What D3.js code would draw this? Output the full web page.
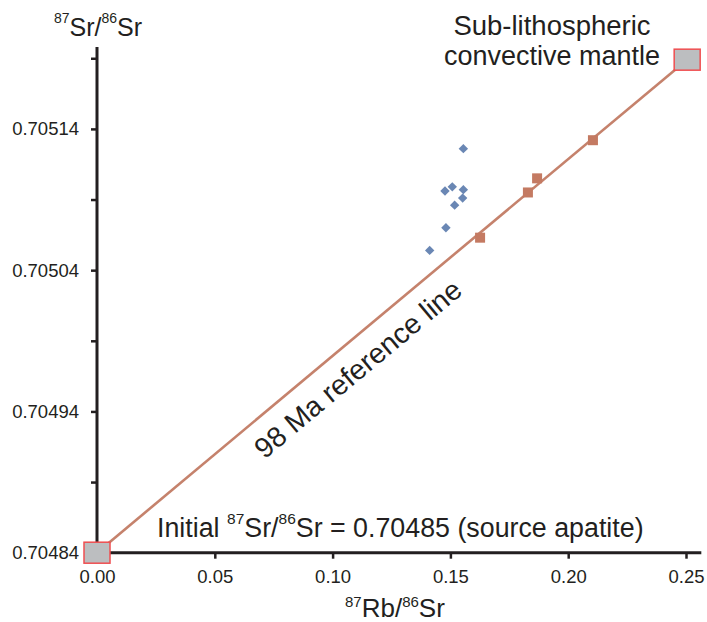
<!DOCTYPE html>
<html>
<head>
<meta charset="utf-8">
<script src="https://cdn.jsdelivr.net/npm/d3@7"></script>
<style>
  html, body { margin: 0; padding: 0; background: #fff; }
  svg { display: block; }
  text { font-family: "Liberation Sans", Arial, Helvetica, sans-serif; fill: #231f20; }
</style>
</head>
<body>
<svg id="chart" width="707" height="622"></svg>
<script>
// ---- data ----
const sampleRb = [0.1412, 0.1477, 0.1481, 0.1508, 0.1518, 0.1552, 0.1555, 0.1555];
const sampleSr = [0.705054, 0.705096, 0.705070, 0.705099, 0.705086, 0.705091, 0.705097, 0.705126];
const refRb = [0.1626, 0.1829, 0.1868, 0.2105];
const refSr = [0.705063, 0.705095, 0.705105, 0.705132];
const endRb = [0, 0.2505];
const endSr = [0.70484, 0.705189];
const xTicks = [0, 0.05, 0.10, 0.15, 0.20, 0.25];
const yMajor = [0.70484, 0.70494, 0.70504, 0.70514];
const yMinor = [0.70489, 0.70499, 0.70509, 0.70519];

const svg = d3.select("#chart");
const dark = "#231f20";
const lineCol = "#c5826c";
const sqCol = "#c47a62";
const blue = "#6a87b4";

const x = d3.scaleLinear().domain([0, 0.25]).range([97, 686]);
const y = d3.scaleLinear().domain([0.70484, 0.70514]).range([552.7, 128.9]);

// axes
const xAxis = d3.axisBottom(x).tickValues(xTicks).tickSize(6).tickPadding(11)
  .tickFormat(d3.format(".2f"));
const gx = svg.append("g").attr("transform", `translate(0,${y(0.70484)})`).call(xAxis);
gx.select(".domain").remove();
gx.selectAll(".tick line").attr("stroke", dark).attr("stroke-width", 2.5);
gx.selectAll(".tick text").attr("font-size", 18.5).attr("font-family", '"Liberation Sans", Arial, sans-serif').attr("fill", dark);

const yTicksAll = yMajor.concat(yMinor);
const yAxis = d3.axisLeft(y).tickValues(yTicksAll).tickSize(6).tickPadding(12)
  .tickFormat(d => yMajor.includes(d) ? d3.format(".5f")(d) : "");
const gy = svg.append("g").attr("transform", `translate(${x(0)},0)`).call(yAxis);
gy.select(".domain").remove();
gy.selectAll(".tick line").attr("stroke", dark).attr("stroke-width", 2.5);
gy.selectAll(".tick text").attr("font-size", 18.5).attr("font-family", '"Liberation Sans", Arial, sans-serif').attr("fill", dark);

// axis lines
svg.append("line").attr("x1", x(0)).attr("x2", x(0))
  .attr("y1", y(0.705198)).attr("y2", y(0.70484) + 1.5)
  .attr("stroke", dark).attr("stroke-width", 3);
svg.append("line").attr("x1", x(0) - 1.5).attr("x2", x(0.2565))
  .attr("y1", y(0.70484)).attr("y2", y(0.70484))
  .attr("stroke", dark).attr("stroke-width", 3);

// reference line
svg.append("line")
  .attr("x1", x(endRb[0])).attr("y1", y(endSr[0]))
  .attr("x2", x(endRb[1])).attr("y2", y(endSr[1]))
  .attr("stroke", lineCol).attr("stroke-width", 2.6);

// end member squares
svg.selectAll("rect.end").data(endRb).enter().append("rect")
  .attr("class", "end")
  .attr("x", (d, i) => x(d) - 13).attr("y", (d, i) => y(endSr[i]) - 10.5)
  .attr("width", 26).attr("height", 21)
  .attr("fill", "#bcbec0").attr("stroke", "#ef4e50").attr("stroke-width", 1.5);

// points on line
svg.selectAll("rect.ref").data(refRb).enter().append("rect")
  .attr("class", "ref")
  .attr("x", d => x(d) - 5).attr("y", (d, i) => y(refSr[i]) - 5)
  .attr("width", 10).attr("height", 10).attr("fill", sqCol);

// sample diamonds
svg.selectAll("path.dia").data(sampleRb).enter().append("path")
  .attr("class", "dia")
  .attr("d", d3.symbol().type(d3.symbolSquare).size(44))
  .attr("transform", (d, i) => `translate(${x(d)},${y(sampleSr[i])}) rotate(45)`)
  .attr("fill", blue);

// ref line label
const ang = Math.atan2(y(endSr[1]) - y(endSr[0]), x(endRb[1]) - x(endRb[0])) * 180 / Math.PI;
const lx = 0.1036;
const ly = endSr[0] + (endSr[1] - endSr[0]) * (lx - endRb[0]) / (endRb[1] - endRb[0]);
svg.append("text")
  .attr("transform", `translate(${x(lx)},${y(ly)}) rotate(${ang})`)
  .attr("x", 0).attr("y", 36)
  .attr("text-anchor", "middle")
  .attr("font-size", 28.5)
  .text("98 Ma reference line");

// helper for text with superscripts
function richText(parent, xPos, yPos, parts, size, supSize, supUp, anchor) {
  const t = parent.append("text").attr("x", xPos).attr("y", yPos)
    .attr("font-size", size).attr("text-anchor", anchor || "start");
  let up = false;
  parts.forEach(p => {
    const s = t.append("tspan").text(p.t);
    if (p.sup) {
      s.attr("font-size", supSize).attr("dy", up ? 0 : -supUp);
      up = true;
    } else {
      s.attr("dy", up ? supUp : 0);
      up = false;
    }
  });
  return t;
}

// axis titles
richText(svg, 54, 35.5, [{t: "87", sup: true}, {t: "Sr/"}, {t: "86", sup: true}, {t: "Sr"}], 25, 14, 13);
richText(svg, 345, 617, [{t: "87", sup: true}, {t: "Rb/"}, {t: "86", sup: true}, {t: "Sr"}], 26, 15, 10);

// annotations
richText(svg, 157, 537, [{t: "Initial "}, {t: "87", sup: true}, {t: "Sr/"}, {t: "86", sup: true}, {t: "Sr = 0.70485 (source apatite)"}], 26.8, 15.5, 13);

svg.append("text").attr("x", 552).attr("y", 35).attr("text-anchor", "middle")
  .attr("font-size", 27.5).text("Sub-lithospheric");
svg.append("text").attr("x", 552).attr("y", 65).attr("text-anchor", "middle")
  .attr("font-size", 27).text("convective mantle");
</script>
</body>
</html>
